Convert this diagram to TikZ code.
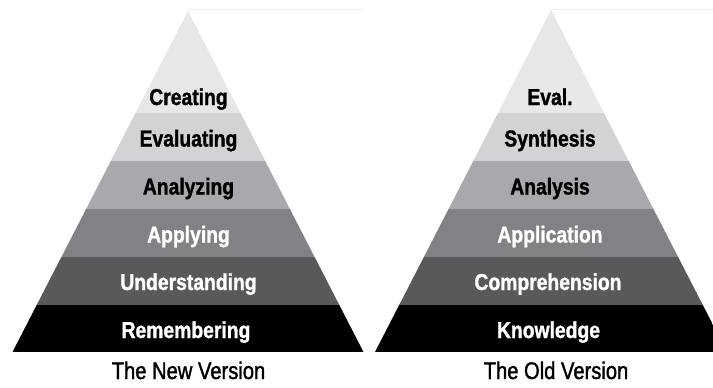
\documentclass[tikz,border=0pt]{standalone}
\usepackage{fontspec}
\setmainfont{Liberation Sans}[FakeStretch=0.85]
\newfontfamily\labelfont{Liberation Sans}[FakeStretch=0.84, FakeBold=1.3]
\newfontfamily\capfont{Liberation Sans}[FakeStretch=0.84, FakeBold=1.4]
\definecolor{bandA}{HTML}{E6E7E8}
\definecolor{bandB}{HTML}{D1D3D4}
\definecolor{bandC}{HTML}{A7A9AC}
\definecolor{bandD}{HTML}{808285}
\definecolor{bandE}{HTML}{58595B}
\definecolor{bandF}{HTML}{000000}
\definecolor{edgeline}{HTML}{EFEFEF}
\tikzset{
  lbl/.style={anchor=base, inner sep=0pt, font=\labelfont\fontsize{23}{25}\selectfont\bfseries},
  dark/.style={lbl, text=black},
  light/.style={lbl, text=white},
  caption/.style={anchor=base, inner sep=0pt, font=\capfont\fontsize{24}{26}\selectfont, text=black},
}
\begin{document}
\begin{tikzpicture}[x=1pt, y=-1pt]
\useasboundingbox (0,0) rectangle (713,388);
\clip (0,0) rectangle (713,388);
% faint top borders
\draw[edgeline, line width=0.8pt] (188,9) -- (365,9);
\draw[edgeline, line width=0.8pt] (551,9) -- (713,9);
% left pyramid
\begin{scope}
  \clip (188,11) -- (363.5,352) -- (12.5,352) -- cycle;
  \fill[bandA] (0,0) rectangle (713,113);
  \fill[bandB] (0,113) rectangle (713,161);
  \fill[bandC] (0,161) rectangle (713,209);
  \fill[bandD] (0,209) rectangle (713,257);
  \fill[bandE] (0,257) rectangle (713,305);
  \fill[bandF] (0,305) rectangle (713,352);
\end{scope}
% right pyramid
\begin{scope}
  \clip (551,10) -- (727,352) -- (375,352) -- cycle;
  \fill[bandA] (0,0) rectangle (713,113);
  \fill[bandB] (0,113) rectangle (713,161);
  \fill[bandC] (0,161) rectangle (713,209);
  \fill[bandD] (0,209) rectangle (713,257);
  \fill[bandE] (0,257) rectangle (713,305);
  \fill[bandF] (0,305) rectangle (713,352);
\end{scope}
% left labels
\node[dark]  (creating) at (188.5,105) {Creating};
\node[dark]  (evaluating) at (188.5,146.5) {Evaluating};
\node[dark]  (analyzing) at (188.5,194.5) {Analyzing};
\node[light] (applying) at (188.5,242.5) {Applying};
\node[light] (understanding) at (188.5,290) {Understanding};
\node[light] (remembering) at (186,338) {Remembering};
\node[caption] (newv) at (188.5,379) {The New Version};
% right labels
\node[dark]  (eval) at (550,105) {Eval.};
\node[dark]  (synthesis) at (550,146.5) {Synthesis};
\node[dark]  (analysis) at (550,194.5) {Analysis};
\node[light] (application) at (550,242.5) {Application};
\node[light] (comprehension) at (548,290) {Comprehension};
\node[light] (knowledge) at (548.5,338) {Knowledge};
\node[caption] (oldv) at (556,379) {The Old Version};
\end{tikzpicture}
\end{document}
